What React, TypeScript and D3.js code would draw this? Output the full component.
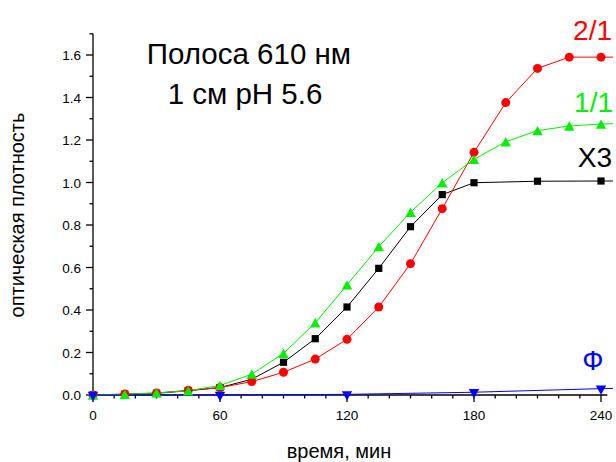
import React from "react";
import * as d3 from "d3";

// Время измерения, мин
const timesFull = [0, 15, 30, 45, 60, 75, 90, 105, 120, 135, 150, 165, 180, 195, 210, 225, 240, 255];
const timesBlack = [0, 15, 30, 45, 60, 75, 90, 105, 120, 135, 150, 165, 180, 210, 240, 255];
const timesBlue = [0, 60, 120, 180, 240, 255];

// Оптическая плотность для каждой серии
const red21 = [0, 0.005, 0.009, 0.022, 0.035, 0.063, 0.107, 0.169, 0.262, 0.414, 0.618, 0.877, 1.142, 1.376, 1.537, 1.59, 1.59, 1.59];
const green11 = [0, 0.003, 0.01, 0.02, 0.045, 0.098, 0.196, 0.34, 0.518, 0.698, 0.86, 0.999, 1.109, 1.192, 1.244, 1.266, 1.275, 1.28];
const blackX3 = [0, 0.003, 0.008, 0.02, 0.035, 0.074, 0.154, 0.265, 0.414, 0.596, 0.792, 0.943, 0.999, 1.006, 1.007, 1.007];
const blueF = [0, 0, 0.003, 0.013, 0.03, 0.032];

const xMajor = [0, 60, 120, 180, 240];
const yMajor = [0, 0.2, 0.4, 0.6, 0.8, 1.0, 1.2, 1.4, 1.6];

const W = 616;
const H = 462;
const FONT = "'Liberation Sans', Arial, sans-serif";
const GREEN = "#00f000";

export default function App() {
  const x = d3.scaleLinear().domain([0, 240]).range([93, 601]);
  const y = d3.scaleLinear().domain([0, 1.6]).range([395, 55]);

  const xMinor = d3.range(0, 241, 10).filter((v) => v % 60 !== 0);
  const yMinor = d3.range(1, 18, 2).map((i) => i / 10);

  const line = d3
    .line<[number, number]>()
    .x((d) => x(d[0]))
    .y((d) => y(d[1]));

  const pts = (ts: number[], vs: number[]) => ts.map((t, i) => [t, vs[i]] as [number, number]);
  const visible = (p: [number, number][]) => p.filter((d) => d[0] <= 240);

  const redPts = pts(timesFull, red21);
  const greenPts = pts(timesFull, green11);
  const blackPts = pts(timesBlack, blackX3);
  const bluePts = pts(timesBlue, blueF);

  const tri = (cx: number, cy: number, up: boolean, s = 5.2) => {
    const h = s * 0.9;
    return up
      ? `M${cx},${cy - h}L${cx + s},${cy + h}L${cx - s},${cy + h}Z`
      : `M${cx},${cy + h}L${cx + s},${cy - h}L${cx - s},${cy - h}Z`;
  };

  return (
    <svg
      width={W}
      height={H}
      style={{ position: "absolute", left: 0, top: 0, background: "#fff" }}
      fontFamily={FONT}
    >
      <defs>
        <clipPath id="plotClip">
          <rect x={93} y={0} width={520} height={H} />
        </clipPath>
      </defs>

      {/* оси */}
      <line x1={93} x2={93} y1={y(1.7)} y2={395} stroke="#000" strokeWidth={1.3} />
      <line x1={93} x2={x(243)} y1={395} y2={395} stroke="#000" strokeWidth={1.3} />

      {yMajor.map((v) => (
        <g key={"ym" + v}>
          <line x1={86} x2={93} y1={y(v)} y2={y(v)} stroke="#000" strokeWidth={1.3} />
          <text x={81} y={y(v) + 5} fontSize={13.5} textAnchor="end" fill="#000">
            {v.toFixed(1)}
          </text>
        </g>
      ))}
      {yMinor.map((v) => (
        <line key={"yn" + v} x1={89.5} x2={93} y1={y(v)} y2={y(v)} stroke="#000" strokeWidth={1.3} />
      ))}

      {xMajor.map((v) => (
        <g key={"xm" + v}>
          <line x1={x(v)} x2={x(v)} y1={395} y2={402} stroke="#000" strokeWidth={1.3} />
          <text x={x(v)} y={420} fontSize={13.5} textAnchor="middle" fill="#000">
            {v}
          </text>
        </g>
      ))}
      {xMinor.map((v) => (
        <line key={"xn" + v} x1={x(v)} x2={x(v)} y1={395} y2={398.5} stroke="#000" strokeWidth={1.3} />
      ))}

      {/* кривые */}
      <g clipPath="url(#plotClip)" fill="none" strokeWidth={1}>
        <path d={line(blackPts) || ""} stroke="#000" />
        <path d={line(redPts) || ""} stroke="#ff0000" />
        <path d={line(greenPts) || ""} stroke={GREEN} />
        <path d={line(bluePts) || ""} stroke="#0000ff" />
      </g>

      {visible(blackPts).map((d, i) => (
        <rect key={"b" + i} x={x(d[0]) - 3.6} y={y(d[1]) - 3.6} width={7.2} height={7.2} fill="#000" />
      ))}
      {visible(redPts).map((d, i) => (
        <circle key={"r" + i} cx={x(d[0])} cy={y(d[1])} r={4.5} fill="#ff0000" />
      ))}
      {visible(greenPts).map((d, i) => (
        <path key={"g" + i} d={tri(x(d[0]), y(d[1]), true)} fill={GREEN} />
      ))}
      {visible(bluePts).map((d, i) => (
        <path key={"u" + i} d={tri(x(d[0]), y(d[1]) + 1.5, false)} fill="#0000ff" />
      ))}

      {/* подписи */}
      <text x={249} y={64} fontSize={29.5} textAnchor="middle" fill="#000">
        Полоса 610 нм
      </text>
      <text x={245} y={104} fontSize={29.5} textAnchor="middle" fill="#000">
        1 см pH 5.6
      </text>

      <text x={612} y={40} fontSize={28} textAnchor="end" fill="#ff0000">2/1</text>
      <text x={613} y={112} fontSize={28} textAnchor="end" fill={GREEN}>1/1</text>
      <text x={612} y={167} fontSize={28} textAnchor="end" fill="#000">X3</text>
      <text x={593} y={370} fontSize={28} textAnchor="middle" fill="#0000ff">Ф</text>

      <text
        transform={`translate(24,215) rotate(-90)`}
        fontSize={20}
        textAnchor="middle"
        fill="#000"
      >
        оптическая плотность
      </text>
      <text x={339} y={458} fontSize={20} textAnchor="middle" fill="#000">
        время, мин
      </text>
    </svg>
  );
}
